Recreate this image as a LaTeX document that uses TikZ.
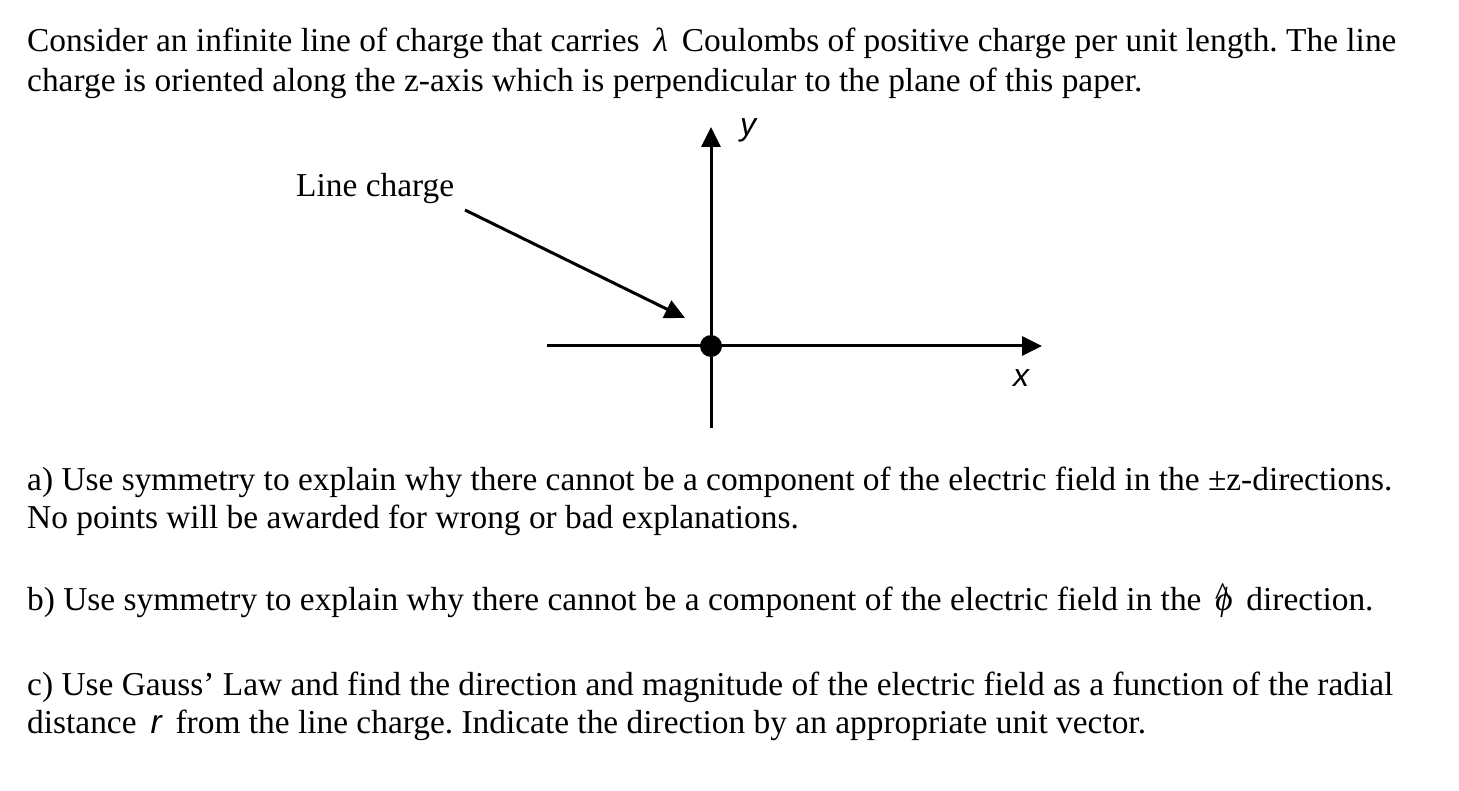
\documentclass[tikz,border=0pt]{standalone}
\usepackage{fontspec}
\setmainfont{Liberation Serif}
\newfontfamily\arialit{Liberation Sans}[ItalicFont=* Italic]
\usetikzlibrary{arrows.meta}
\frenchspacing
\newcommand{\phihat}{\hbox{\textit{ϕ}\llap{\raisebox{0.12em}{\textasciicircum\kern0.06em}}}}
\begin{document}
\begin{tikzpicture}[x=1pt,y=-1pt,
  txt/.style={anchor=base west,inner sep=0pt,font=\fontsize{33.4}{38}\selectfont},
  lbl/.style={inner sep=0pt,font=\fontsize{32}{36}\selectfont\arialit\itshape},
  axis/.style={line width=3pt,-{Triangle[length=20pt,width=19pt]}}]
\useasboundingbox (0,0) rectangle (1459,791);
\node[txt] (t1) at (27,52) {Consider an infinite line of charge that carries \,\textit{λ}\, Coulombs of positive charge per unit length. The line};
\node[txt] (t2) at (27,92) {charge is oriented along the z-axis which is perpendicular to the plane of this paper.};
\node[txt] (lc) at (296,197) {Line charge};
\coordinate (o) at (711,346);
\coordinate (ytop) at (711,127);
\coordinate (ybot) at (711,428);
\coordinate (xl) at (547,346);
\coordinate (xr) at (1042,346);
\coordinate (as) at (465,210);
\coordinate (ae) at (685,318);
\draw[axis] (ybot) -- (ytop);
\draw[axis] (xl) -- (xr);
\draw[axis] (as) -- (ae);
\fill (o) circle (11);
\node[lbl] (ly) at (748,130) {y};
\node[lbl] (lx) at (1021,378) {x};
\node[txt] (a1) at (27,490) {a) Use symmetry to explain why there cannot be a component of the electric field in the ±z-directions.};
\node[txt] (a2) at (27,528) {No points will be awarded for wrong or bad explanations.};
\node[txt] (b1) at (27,610) {b) Use symmetry to explain why there cannot be a component of the electric field in the \,\phihat\, direction.};
\node[txt] (c1) at (27,695) {c) Use Gauss’ Law and find the direction and magnitude of the electric field as a function of the radial};
\node[txt] (c2) at (27,733) {distance \,{\arialit\itshape r}\, from the line charge. Indicate the direction by an appropriate unit vector.};
\end{tikzpicture}
\end{document}
